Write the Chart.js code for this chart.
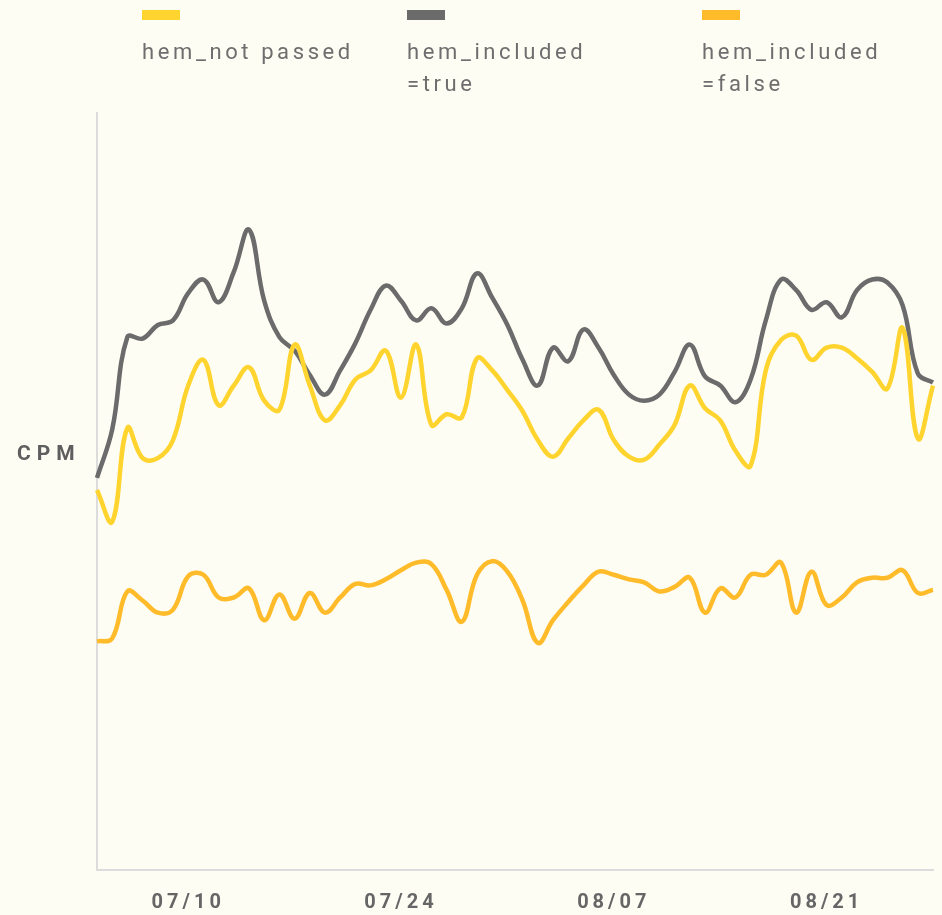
<!DOCTYPE html>
<html>
<head>
<meta charset="utf-8">
<script src="https://cdn.jsdelivr.net/npm/chart.js@4.4.1/dist/chart.umd.min.js"></script>
<style>
  html, body { margin: 0; padding: 0; background: #fefdf4; }
  #wrap { position: relative; width: 942px; height: 915px; overflow: hidden; }
  #cpmChart { position: absolute; left: 0; top: 0; }
  .leg { position: absolute; top: 10px; font-family: Roboto, sans-serif; font-size: 22px;
         letter-spacing: 3.6px; color: #6e6e6e; line-height: 32px; }
  .leg .bar { width: 38px; height: 10px; margin-bottom: 16px; }
  #ylabel { position: absolute; left: 17px; top: 441px; font-family: Roboto, sans-serif;
            font-weight: bold; font-size: 21px; letter-spacing: 6px; color: #5e5e5e; }
</style>
</head>
<body>
<div id="wrap">
  <canvas id="cpmChart" width="942" height="915"></canvas>
  <div id="legend"></div>
  <div id="ylabel">CPM</div>
</div>
<script>
// daily categories 07/04 .. 08/28
const dates = [
  '07/04','07/05','07/06','07/07','07/08','07/09','07/10','07/11','07/12','07/13',
  '07/14','07/15','07/16','07/17','07/18','07/19','07/20','07/21','07/22','07/23',
  '07/24','07/25','07/26','07/27','07/28','07/29','07/30','07/31','08/01','08/02',
  '08/03','08/04','08/05','08/06','08/07','08/08','08/09','08/10','08/11','08/12',
  '08/13','08/14','08/15','08/16','08/17','08/18','08/19','08/20','08/21','08/22',
  '08/23','08/24','08/25','08/26','08/27','08/28'
];
const tickLabels = ['07/10', '07/24', '08/07', '08/21'];

const seriesNames = ['hem_not passed', 'hem_included\n=true', 'hem_included\n=false'];
const seriesColors = ['#ffd42e', '#6b6b6b', '#ffbb29'];

const notPassed = [
  2.51, 2.30, 2.92, 2.72, 2.72, 2.84, 3.20, 3.37, 3.07, 3.20,
  3.32, 3.10, 3.04, 3.47, 3.20, 2.97, 3.07, 3.24, 3.30, 3.43,
  3.12, 3.47, 2.94, 3.01, 2.99, 3.38, 3.30, 3.17, 3.03, 2.84,
  2.73, 2.85, 2.97, 3.04, 2.84, 2.73, 2.71, 2.81, 2.94, 3.20,
  3.05, 2.97, 2.77, 2.67, 3.30, 3.50, 3.53, 3.37, 3.45, 3.45,
  3.38, 3.29, 3.18, 3.58, 2.85, 3.20
];
const includedTrue = [
  2.59, 2.91, 3.52, 3.51, 3.60, 3.63, 3.81, 3.90, 3.75, 3.95,
  4.23, 3.76, 3.52, 3.43, 3.27, 3.14, 3.30, 3.48, 3.70, 3.86,
  3.76, 3.63, 3.71, 3.61, 3.71, 3.94, 3.78, 3.60, 3.37, 3.20,
  3.45, 3.36, 3.57, 3.45, 3.27, 3.14, 3.10, 3.14, 3.29, 3.47,
  3.26, 3.20, 3.09, 3.24, 3.63, 3.90, 3.83, 3.70, 3.75, 3.65,
  3.83, 3.90, 3.88, 3.73, 3.28, 3.22
];
const includedFalse = [
  1.51, 1.53, 1.84, 1.78, 1.70, 1.72, 1.94, 1.95, 1.80, 1.80,
  1.86, 1.65, 1.82, 1.66, 1.83, 1.70, 1.80, 1.89, 1.88, 1.92,
  1.98, 2.03, 2.02, 1.85, 1.64, 1.95, 2.04, 1.97, 1.78, 1.50,
  1.65, 1.77, 1.88, 1.97, 1.95, 1.92, 1.90, 1.84, 1.87, 1.93,
  1.70, 1.86, 1.80, 1.95, 1.95, 2.03, 1.70, 1.97, 1.75, 1.80,
  1.90, 1.93, 1.93, 1.98, 1.83, 1.85
];

// html legend, bars above wrapped labels
const legendPos = [142, 407, 702];
const legendEl = document.getElementById('legend');
seriesNames.forEach((name, i) => {
  const item = document.createElement('div');
  item.className = 'leg';
  item.style.left = legendPos[i] + 'px';
  const bar = document.createElement('div');
  bar.className = 'bar';
  bar.style.background = seriesColors[i];
  item.appendChild(bar);
  name.split('\n').forEach(line => {
    const d = document.createElement('div');
    d.textContent = line;
    item.appendChild(d);
  });
  legendEl.appendChild(item);
});

const spacing = {
  id: 'spacing',
  beforeDraw(chart) { chart.ctx.letterSpacing = '4px'; },
  beforeDatasetsDraw(chart) { chart.ctx.letterSpacing = '0px'; }
};

const ds = [notPassed, includedTrue, includedFalse].map((data, i) => ({
  label: seriesNames[i].replace('\n', ''),
  data,
  borderColor: seriesColors[i],
  backgroundColor: seriesColors[i],
  borderWidth: 4.5,
  pointRadius: 0,
  tension: 0.4,
  fill: false
}));

new Chart(document.getElementById('cpmChart').getContext('2d'), {
  type: 'line',
  data: { labels: dates, datasets: ds },
  plugins: [spacing],
  options: {
    responsive: false,
    animation: false,
    layout: { padding: { left: 0, top: 113, right: 9, bottom: 0 } },
    plugins: { legend: { display: false }, tooltip: { enabled: false } },
    scales: {
      x: {
        grid: { color: 'transparent', drawTicks: false },
        border: { color: '#dcdcdc', width: 2 },
        ticks: {
          autoSkip: false,
          maxRotation: 0,
          padding: 21,
          color: '#666',
          font: { family: 'Roboto', size: 20, weight: 'bold' },
          callback: (v, i) => tickLabels.includes(dates[i]) ? dates[i] : ''
        },
        afterFit: s => { s.height = 45; s.paddingLeft = 0; s.paddingRight = 0; }
      },
      y: {
        min: 0,
        max: 5,
        ticks: { display: false },
        grid: { color: 'transparent', drawTicks: false },
        border: { color: '#dcdcdc', width: 2 },
        afterFit: s => { s.width = 97; }
      }
    }
  }
});
</script>
</body>
</html>
